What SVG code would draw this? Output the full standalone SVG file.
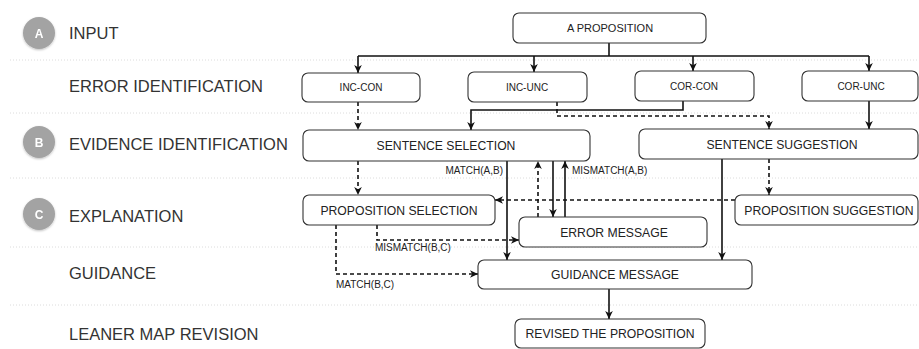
<svg xmlns="http://www.w3.org/2000/svg" width="919" height="349" viewBox="0 0 919 349">
<style>
.row{font-family:"Liberation Sans",Arial,sans-serif;font-size:16.5px;fill:#333}
.nd rect{fill:#fff;stroke:#333;stroke-width:1.1}
.nt{font-family:"Liberation Sans",Arial,sans-serif;font-size:12.2px;fill:#222;text-anchor:middle}
.ns{font-family:"Liberation Sans",Arial,sans-serif;font-size:10px;fill:#222;text-anchor:middle}
.lb{font-family:"Liberation Sans",Arial,sans-serif;font-size:10px;fill:#222}
.sep{stroke:#dcdcdc;stroke-width:1;stroke-dasharray:1 2}
.c path{fill:none;stroke:#111;stroke-width:1.6}
.c .d{stroke-dasharray:4 3}
.badge circle{fill:#a3a3a3}
.badge text{font-family:"Liberation Sans",Arial,sans-serif;font-size:12px;font-weight:bold;fill:#fff;text-anchor:middle}
</style>
<defs>
<marker id="ar" markerUnits="userSpaceOnUse" markerWidth="10" markerHeight="10" viewBox="0 0 10 10" refX="9" refY="5" orient="auto">
<path d="M1,1.2 L9,5 L1,8.8 L3.2,5 z" fill="#111"/>
</marker>
<filter id="sh" x="-30%" y="-30%" width="160%" height="160%">
<feDropShadow dx="0" dy="1" stdDeviation="1.2" flood-color="#000" flood-opacity="0.25"/>
</filter>
</defs>
<rect width="919" height="349" fill="#fff"/>
<g id="separators">
<line class="sep" x1="10" y1="60" x2="919" y2="60"/>
<line class="sep" x1="10" y1="113" x2="919" y2="113"/>
<line class="sep" x1="10" y1="178" x2="919" y2="178"/>
<line class="sep" x1="10" y1="247" x2="919" y2="247"/>
<line class="sep" x1="10" y1="305" x2="919" y2="305"/>
</g>
<g id="rows">
<g class="badge" filter="url(#sh)"><circle cx="39" cy="33" r="16"/><text x="39" y="37.5">A</text></g>
<g class="badge" filter="url(#sh)"><circle cx="39" cy="142" r="16"/><text x="39" y="146.5">B</text></g>
<g class="badge" filter="url(#sh)"><circle cx="39" cy="214" r="16"/><text x="39" y="218.5">C</text></g>
<text class="row" x="69" y="39">INPUT</text>
<text class="row" x="69" y="92">ERROR IDENTIFICATION</text>
<text class="row" x="69" y="150">EVIDENCE IDENTIFICATION</text>
<text class="row" x="69" y="222">EXPLANATION</text>
<text class="row" x="69" y="279">GUIDANCE</text>
<text class="row" x="69" y="340">LEANER MAP REVISION</text>
</g>
<g id="connectors" class="c">
<path d="M609,43 V56"/>
<path d="M358,56 H869"/>
<path d="M358,56 V73" marker-end="url(#ar)"/>
<path d="M534,56 V72" marker-end="url(#ar)"/>
<path d="M693,56 V71" marker-end="url(#ar)"/>
<path d="M869,56 V71" marker-end="url(#ar)"/>
<path d="M683,101 V110 H471 V130" marker-end="url(#ar)"/>
<path d="M869,101 V129" marker-end="url(#ar)"/>
<path d="M507,161 V260" marker-end="url(#ar)"/>
<path d="M553,161 V217" marker-end="url(#ar)"/>
<path d="M565,217 V161" marker-end="url(#ar)"/>
<path d="M722,159 V260" marker-end="url(#ar)"/>
<path d="M609,289 V319" marker-end="url(#ar)"/>
<path class="d" d="M358,102 V130" marker-end="url(#ar)"/>
<path class="d" d="M557,102 V116 H769 V129" marker-end="url(#ar)"/>
<path class="d" d="M358,161 V195" marker-end="url(#ar)"/>
<path class="d" d="M538,217 V161" marker-end="url(#ar)"/>
<path class="d" d="M769,159 V195" marker-end="url(#ar)"/>
<path class="d" d="M735,200 H495" marker-end="url(#ar)"/>
<path class="d" d="M377,225 V240 H519" marker-end="url(#ar)"/>
<path class="d" d="M336,225 V274 H478" marker-end="url(#ar)"/>
<text class="lb" x="503" y="174" text-anchor="end">MATCH(A,B)</text>
<text class="lb" x="572" y="174">MISMATCH(A,B)</text>
<text class="lb" x="375" y="251">MISMATCH(B,C)</text>
<text class="lb" x="336" y="288">MATCH(B,C)</text>
</g>
<g id="n-proposition" class="nd"><rect x="513" y="13" width="193" height="30" rx="6"/><text class="ns" style="font-size:11px" x="610" y="32">A PROPOSITION</text></g>
<g id="n-inc-con" class="nd"><rect x="302" y="73" width="118" height="29" rx="6"/><text class="ns" x="361" y="91">INC-CON</text></g>
<g id="n-inc-unc" class="nd"><rect x="468" y="72" width="119" height="30" rx="6"/><text class="ns" x="527" y="90.5">INC-UNC</text></g>
<g id="n-cor-con" class="nd"><rect x="635" y="71" width="119" height="30" rx="6"/><text class="ns" x="694" y="89.5">COR-CON</text></g>
<g id="n-cor-unc" class="nd"><rect x="802" y="71" width="116" height="30" rx="6"/><text class="ns" x="861" y="89.5">COR-UNC</text></g>
<g id="n-sentence-selection" class="nd"><rect x="303" y="130" width="287" height="31" rx="6"/><text class="nt" x="446" y="150">SENTENCE SELECTION</text></g>
<g id="n-sentence-suggestion" class="nd"><rect x="639" y="129" width="279" height="30" rx="6"/><text class="nt" x="782" y="148.5">SENTENCE SUGGESTION</text></g>
<g id="n-proposition-selection" class="nd"><rect x="303" y="195" width="192" height="30" rx="6"/><text class="nt" x="399" y="214.5">PROPOSITION SELECTION</text></g>
<g id="n-proposition-suggestion" class="nd"><rect x="735" y="195" width="183" height="30" rx="6"/><text class="nt" x="829" y="214.5">PROPOSITION SUGGESTION</text></g>
<g id="n-error-message" class="nd"><rect x="519" y="217" width="188" height="30" rx="6"/><text class="nt" x="614" y="236.5">ERROR MESSAGE</text></g>
<g id="n-guidance-message" class="nd"><rect x="478" y="260" width="274" height="29" rx="6"/><text class="nt" x="615" y="278.5">GUIDANCE MESSAGE</text></g>
<g id="n-revised" class="nd"><rect x="515" y="319" width="190" height="29" rx="6"/><text class="nt" x="610" y="338">REVISED THE PROPOSITION</text></g>
</svg>
